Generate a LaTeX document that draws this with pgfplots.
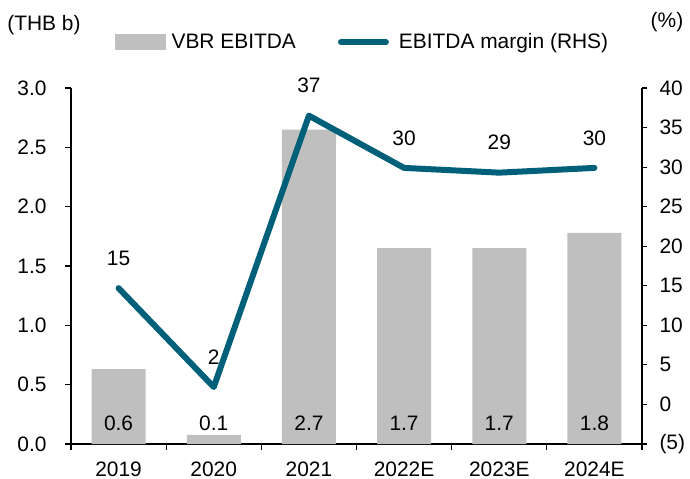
\documentclass[border=0pt]{standalone}
\usepackage{fontspec}
\setmainfont{Liberation Sans}
\usepackage{pgfplots}
\pgfplotsset{compat=1.18}
\definecolor{bargrey}{RGB}{191,191,191}
\definecolor{linecol}{RGB}{0,96,122}
\newcommand{\fs}{\fontsize{21}{25}\selectfont}
\begin{document}
\begin{tikzpicture}
\path[use as bounding box] (-71bp,-35bp) rectangle (619bp,444bp);
\begin{axis}[
  scale only axis, width=571bp, height=356bp,
  xmin=-0.5, xmax=5.5, ymin=0, ymax=3,
  axis y line*=left, axis x line*=bottom,
  xtick={0,...,5}, xticklabels={2019,2020,2021,2022E,2023E,2024E},
  major x tick style={draw=none},
  minor xtick={-0.5,0.5,...,5.5},
  minor x tick style={draw=black, line width=1.2bp},
  ytick={0,0.5,...,3}, yticklabels={0.0,0.5,1.0,1.5,2.0,2.5,3.0},
  tick align=outside, major tick length=6bp, minor tick length=6bp,
  axis line style={line width=1.2bp, -},
  tick style={line width=1.2bp, black},
  ticklabel style={font=\fs},
  yticklabel style={xshift=-15bp},
  xticklabel style={yshift=-8bp},
  /pgf/number format/assume math mode=true,
  clip=false,
]
\addplot[ybar, bar width=54bp, fill=bargrey, draw=none]
  coordinates {(0,0.63) (1,0.076) (2,2.65) (3,1.65) (4,1.65) (5,1.78)};
\addplot[draw=none, mark=none, nodes near coords, point meta=explicit symbolic,
  nodes near coords style={anchor=center, font=\fs, text=black}]
  coordinates {(0,0.177)[0.6] (1,0.177)[0.1] (2,0.177)[2.7] (3,0.177)[1.7] (4,0.177)[1.7] (5,0.177)[1.8]};
\end{axis}
\begin{axis}[
  scale only axis, width=571bp, height=356bp,
  xmin=-0.5, xmax=5.5, ymin=-5, ymax=40,
  axis y line*=right, axis x line=none,
  ytick={-5,0,...,40}, yticklabels={(5),0,5,10,15,20,25,30,35,40},
  tick align=outside, major tick length=5bp,
  axis line style={line width=1.2bp, -},
  tick style={line width=1.2bp, black},
  ticklabel style={font=\fs},
  yticklabel style={xshift=9bp},
  clip=false,
  legend columns=-1,
  legend style={at={(0.077,1.129)}, anchor=west, draw=none, fill=none,
    inner sep=0pt, font=\fs,
    /tikz/every even column/.append style={column sep=40bp}},
]
\addlegendimage{legend image code/.code={\fill[bargrey] (0bp,-7.5bp) rectangle (50bp,7.5bp); \path (54bp,0bp);}}
\addlegendentry{VBR EBITDA}
\addplot[linecol, line width=6bp, line cap=round, line join=round, mark=none,
  nodes near coords, point meta=explicit symbolic,
  nodes near coords style={anchor=center, yshift=30bp, font=\fs, text=black},
  legend image code/.code={\draw[linecol, line width=6bp, line cap=round] (3bp,0bp) -- (48bp,0bp); \path (56bp,0bp);}]
  coordinates {(0,14.7)[15] (1,2.2)[2] (2,36.5)[37] (3,29.9)[30] (4,29.3)[29] (5,29.9)[30]};
\addlegendentry{EBITDA margin (RHS)}
\end{axis}
\node[font=\fs] at (-27bp,419bp) {(THB b)};
\node[font=\fs] at (596bp,422bp) {(\%)};
\end{tikzpicture}
\end{document}
